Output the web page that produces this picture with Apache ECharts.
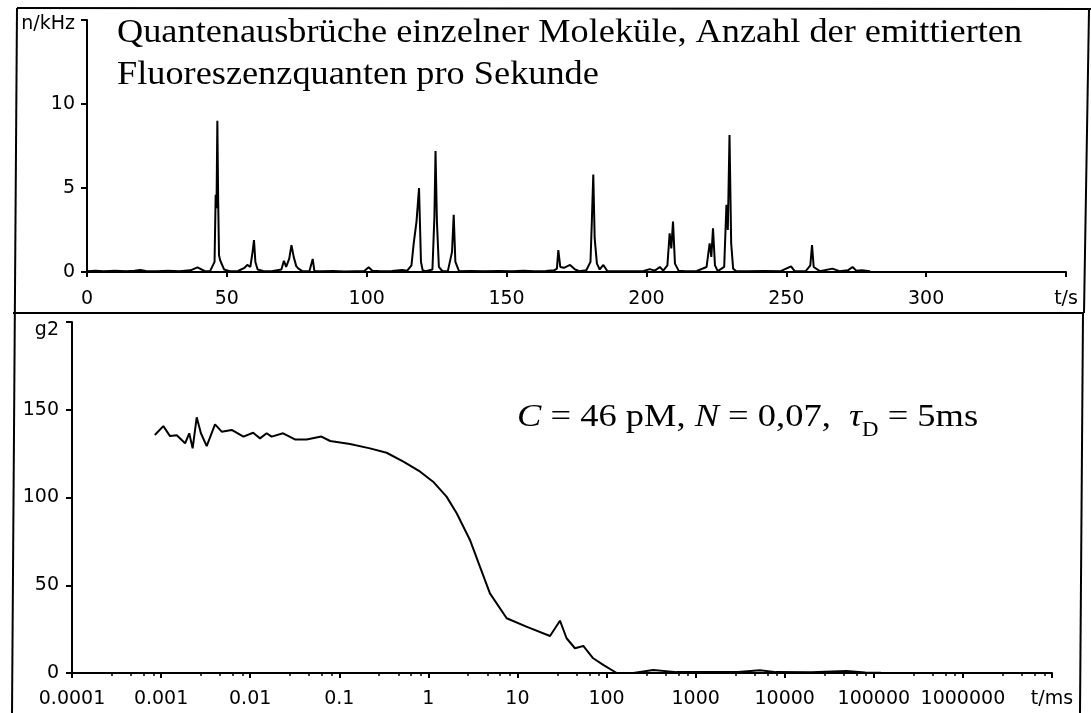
<!DOCTYPE html>
<html>
<head>
<meta charset="utf-8">
<script src="https://cdn.jsdelivr.net/npm/echarts@6/dist/echarts.min.js"></script>
<style>
  html, body { margin: 0; padding: 0; background: #fff; }
  #chart { width: 1091px; height: 713px; }
</style>
</head>
<body>
<div id="chart"></div>
<script>
// Photon bursts of single molecules: count rate over time (s)
var burstTime = [0, 3, 6, 10, 14, 17, 19, 21, 25, 29, 33, 37, 39.5, 42, 44,
  45.6, 46.0, 46.3, 46.6, 46.9, 47.2, 47.6, 48.2, 49, 51, 54, 56.3, 57.3, 58.4,
  59.2, 59.7, 60.2, 61, 63, 66, 69.5, 70.4, 71.2, 72.3, 73.1, 73.9, 74.8, 75.6,
  77, 79.5, 80.7, 81.3, 84, 88, 92, 96, 99, 100.7, 102, 105, 109, 112.6, 114.5,
  116, 116.8, 117.8, 118.7, 119.4, 120, 121, 123.5, 124.2, 124.6, 125.1, 125.8,
  127, 129, 130.5, 131.1, 131.7, 133, 137, 142, 147, 152, 156, 160, 164, 167,
  168, 168.5, 169.2, 170.5, 172.7, 174.5, 176, 178.5, 180, 180.5, 181, 181.5,
  182.3, 183.3, 184.6, 186, 190, 195, 199, 201.2, 203, 204.8, 206, 207.5, 208.3,
  208.9, 209.5, 210.2, 211.5, 214, 218, 221.5, 222.6, 223.2, 223.8, 224.5, 225.5,
  227.8, 228.6, 229.1, 229.7, 230.3, 231, 232, 236, 242, 248, 251.7, 253, 257,
  258.6, 259.2, 259.8, 262, 266.5, 269, 272, 273.7, 275, 277, 280];
var burstRate = [0.05, 0.08, 0.04, 0.07, 0.05, 0.08, 0.12, 0.06, 0.05, 0.07, 0.04, 0.1, 0.28, 0.06, 0.05,
  0.6, 4.6, 3.8, 9.0, 4.2, 1.0, 0.7, 0.6, 0.15, 0.05, 0.06, 0.25, 0.42, 0.3,
  1.2, 1.9, 0.6, 0.15, 0.06, 0.05, 0.15, 0.67, 0.3, 0.8, 1.6, 0.9, 0.35, 0.2,
  0.05, 0.05, 0.78, 0.05, 0.04, 0.06, 0.03, 0.05, 0.05, 0.28, 0.08, 0.05, 0.06, 0.12, 0.08,
  0.4, 1.7, 3.0, 5.0, 0.6, 0.1, 0.05, 0.15, 3.3, 7.2, 3.0, 0.3,
  0.06, 0.05, 1.2, 3.4, 0.6, 0.05, 0.06, 0.04, 0.06, 0.05, 0.08, 0.05, 0.06, 0.1,
  0.2, 1.3, 0.3, 0.25, 0.42, 0.15, 0.05, 0.1, 0.6, 3.1, 5.8, 2.0,
  0.5, 0.15, 0.42, 0.06, 0.05, 0.04, 0.06, 0.17, 0.08, 0.3, 0.08, 0.4, 2.3,
  1.4, 3.0, 0.5, 0.08, 0.05, 0.06, 0.3, 1.7, 0.9, 2.6, 0.4, 0.05,
  0.3, 4.0, 2.5, 8.15, 1.7, 0.2, 0.06, 0.05, 0.06, 0.05, 0.33, 0.05, 0.06,
  0.4, 1.6, 0.3, 0.05, 0.2, 0.05, 0.1, 0.3, 0.08, 0.1, 0.05];

// Autocorrelation g2 over lag time (ms, logarithmic)
var lagTime = [0.00085, 0.00106, 0.00126, 0.0015, 0.00186, 0.00207, 0.00226, 0.00251,
  0.0028, 0.00325, 0.00403, 0.00479, 0.0062, 0.0084, 0.0108, 0.0129, 0.0153, 0.0174,
  0.0234, 0.0318, 0.043, 0.063, 0.079, 0.132, 0.221, 0.34, 0.525, 0.81, 1.13, 1.6,
  2.08, 2.93, 3.79, 4.91, 7.57, 12.6, 23.2, 30, 35.6, 44.2, 54.8, 70.8, 91.8, 130,
  200, 334, 612, 1320, 3000, 5250, 8000, 20000, 49000, 80000, 120000];
var g2Value = [135.6, 140.7, 135, 135.5, 130.9, 136.6, 128, 145.7,
  136.6, 129.3, 141.7, 137.5, 138.5, 134.7, 136.9, 133.7, 136.6, 134.7,
  136.6, 133.1, 133.1, 134.7, 132.2, 130.5, 128, 125.5, 120.4, 114.7, 109, 100.5,
  91, 75.8, 60.6, 45.4, 31.2, 26.4, 21.1, 29.8, 19.8, 14.1, 15.4, 8.4, 4.6, 0,
  0, 1.7, 0.5, 0.5, 0.6, 1.5, 0.5, 0.4, 1.2, 0.3, 0.2];

// Tick labels
var lagTickLabels = ['0.0001', '0.001', '0.01', '0.1', '1', '10', '100', '1000',
  '10000', '100000', '1000000', 't/ms'];
var timeAxisName = 't/s';
var rateAxisName = 'n/kHz';
var g2AxisName = 'g2';

var burstData = burstTime.map(function (t, i) { return [t, burstRate[i]]; });
var g2Data = lagTime.map(function (t, i) { return [t, g2Value[i]]; });

var AXIS_FONT = 'DejaVu Sans';
var lineBlack = { color: '#000', width: 2 };

function labelStyle(margin) {
  return { color: '#000', fontFamily: AXIS_FONT, fontSize: 19, margin: margin };
}

var chart = echarts.init(document.getElementById('chart'), null, { renderer: 'canvas' });

chart.setOption({
  backgroundColor: '#fff',
  animation: false,
  grid: [
    { left: 87, right: 25, top: 20, bottom: 441 },
    { left: 72, right: 39, top: 322, bottom: 40 }
  ],
  xAxis: [
    {
      gridIndex: 0, type: 'value', min: 0, max: 350, interval: 50,
      axisLine: { lineStyle: lineBlack },
      axisTick: { show: true, length: 5, lineStyle: lineBlack },
      splitLine: { show: false },
      axisLabel: Object.assign(labelStyle(18), {
        formatter: function (v) { return v === 350 ? timeAxisName : String(v); }
      })
    },
    {
      gridIndex: 1, type: 'log', logBase: 10, min: 0.0001, max: 10000000,
      interval: 1, splitNumber: 11,
      axisLine: { lineStyle: lineBlack },
      axisTick: { show: true, length: 5, lineStyle: lineBlack },
      minorTick: { show: true, splitNumber: 5, length: 3, lineStyle: { color: '#000', width: 1.5 } },
      splitLine: { show: false },
      axisLabel: Object.assign(labelStyle(17), {
        interval: 0,
        hideOverlap: false,
        formatter: function (v) {
          var k = Math.round(Math.log(v) / Math.LN10) + 4;
          return lagTickLabels[k] !== undefined ? lagTickLabels[k] : '';
        }
      })
    }
  ],
  yAxis: [
    {
      gridIndex: 0, type: 'value', min: 0, max: 15, interval: 5,
      axisLine: { show: true, lineStyle: lineBlack },
      axisTick: { show: true, length: 6, lineStyle: lineBlack },
      splitLine: { show: false },
      axisLabel: Object.assign(labelStyle(12), {
        formatter: function (v) { return v === 15 ? '{nm|' + rateAxisName + '}' : String(v); },
        rich: { nm: { fontFamily: AXIS_FONT, fontSize: 19, color: '#000', padding: [8, 0, 0, 0] } }
      })
    },
    {
      gridIndex: 1, type: 'value', min: 0, max: 200, interval: 50,
      axisLine: { show: true, lineStyle: lineBlack },
      axisTick: { show: true, length: 6, lineStyle: lineBlack },
      splitLine: { show: false },
      axisLabel: Object.assign(labelStyle(13), {
        formatter: function (v) { return v === 200 ? '{nm|' + g2AxisName + '}' : String(v); },
        rich: { nm: { fontFamily: AXIS_FONT, fontSize: 19, color: '#000', padding: [16, 0, 0, 0] } }
      })
    }
  ],
  series: [
    {
      type: 'line', xAxisIndex: 0, yAxisIndex: 0,
      data: burstData, showSymbol: false, symbol: 'none',
      lineStyle: { color: '#000', width: 2 }
    },
    {
      type: 'line', xAxisIndex: 1, yAxisIndex: 1,
      data: g2Data, showSymbol: false, symbol: 'none',
      lineStyle: { color: '#000', width: 2 }
    }
  ],
  graphic: [
    // frame around both panels
    { type: 'line', shape: { x1: 17, y1: 8, x2: 1091, y2: 9 }, style: { stroke: '#000', lineWidth: 2 } },
    { type: 'line', shape: { x1: 17, y1: 8, x2: 12, y2: 713 }, style: { stroke: '#000', lineWidth: 2 } },
    { type: 'line', shape: { x1: 1089, y1: 10, x2: 1084, y2: 313 }, style: { stroke: '#000', lineWidth: 2 } },
    { type: 'line', shape: { x1: 1083, y1: 313, x2: 1080, y2: 713 }, style: { stroke: '#000', lineWidth: 2 } },
    { type: 'line', shape: { x1: 13, y1: 313, x2: 1084, y2: 313 }, style: { stroke: '#000', lineWidth: 2 } },
    {
      type: 'text', x: 117, y: 12, scaleX: 1.10,
      style: {
        text: 'Quantenausbrüche einzelner Moleküle, Anzahl der emittierten\nFluoreszenzquanten pro Sekunde',
        font: '33px "Liberation Serif"', fill: '#000', lineHeight: 42
      }
    },
    {
      type: 'text', x: 517, y: 418, scaleX: 1.14,
      style: {
        text: '{i|C} = 46 pM, {i|N} = 0,07,  {i|τ}{sub|D} = 5ms',
        font: '32px "Liberation Serif"', fill: '#000', verticalAlign: 'middle',
        rich: {
          i: { fontStyle: 'italic', fontSize: 32, fontFamily: 'Liberation Serif', fill: '#000' },
          sub: { fontSize: 20, fontFamily: 'Liberation Serif', fill: '#000', padding: [26, 0, 0, 0] }
        }
      }
    }
  ]
});
</script>
</body>
</html>
